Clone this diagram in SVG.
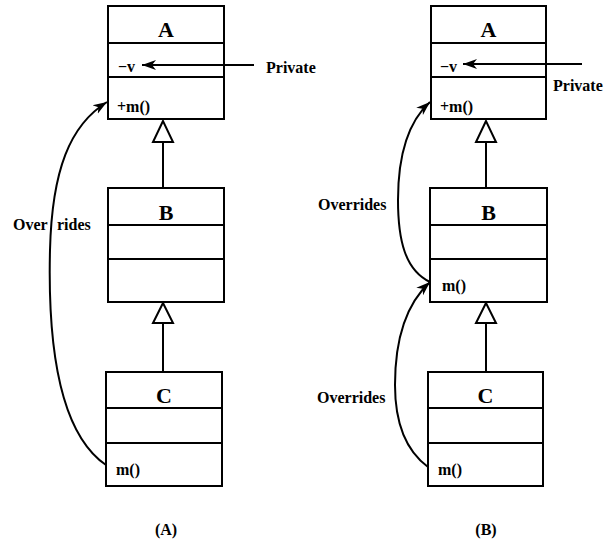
<svg xmlns="http://www.w3.org/2000/svg" width="605" height="543" viewBox="0 0 605 543">
<style>
.box{fill:#fff;stroke:#000;stroke-width:2}
.ln{fill:none;stroke:#000;stroke-width:2}
.t{font-family:"Liberation Serif","Times New Roman",serif;font-weight:bold;fill:#000}
.title{font-size:22px;text-anchor:middle}
.mem{font-size:16px}
.lbl{font-size:16px}
</style>
<defs>
<marker id="ah" markerUnits="userSpaceOnUse" markerWidth="16" markerHeight="12" viewBox="0 0 16 12" refX="14" refY="6" orient="auto">
<path d="M0,1 L14,6 L0,11 L4,6 Z" fill="#000"/>
</marker>
</defs>
<g id="A1">
<rect class="box" x="108" y="6" width="116" height="113"/>
<path class="ln" d="M108,43 H224 M108,77 H224"/>
<text class="t title" x="166" y="37">A</text>
<text class="t mem" x="118" y="72">−v</text>
<text class="t mem" x="117" y="112">+m()</text>
</g>
<g id="B1">
<rect class="box" x="108" y="188" width="116" height="114"/>
<path class="ln" d="M108,225 H224 M108,259 H224"/>
<text class="t title" x="166" y="220">B</text>
</g>
<g id="C1">
<rect class="box" x="106" y="372" width="116" height="114"/>
<path class="ln" d="M106,408 H222 M106,443 H222"/>
<text class="t title" x="164" y="403">C</text>
<text class="t mem" x="116" y="475">m()</text>
</g>
<g id="A2">
<rect class="box" x="431" y="6" width="115" height="113"/>
<path class="ln" d="M431,43 H546 M431,77 H546"/>
<text class="t title" x="488.5" y="37">A</text>
<text class="t mem" x="440" y="72">−v</text>
<text class="t mem" x="440" y="112">+m()</text>
</g>
<g id="B2">
<rect class="box" x="430" y="188" width="117" height="114"/>
<path class="ln" d="M430,225 H547 M430,259 H547"/>
<text class="t title" x="488.5" y="220">B</text>
<text class="t mem" x="442" y="291">m()</text>
</g>
<g id="C2">
<rect class="box" x="428" y="372" width="115" height="114"/>
<path class="ln" d="M428,408 H543 M428,443 H543"/>
<text class="t title" x="485.5" y="403">C</text>
<text class="t mem" x="438" y="475">m()</text>
</g>
<g id="connectors">
<path class="ln" d="M163,142 V188"/>
<path d="M163,121 L153,142 L173,142 Z" fill="#fff" stroke="#000" stroke-width="2"/>
<path class="ln" d="M163,323 V372"/>
<path d="M163,303 L153,323 L173,323 Z" fill="#fff" stroke="#000" stroke-width="2"/>
<path class="ln" d="M486,142 V188"/>
<path d="M486,121 L476,142 L496,142 Z" fill="#fff" stroke="#000" stroke-width="2"/>
<path class="ln" d="M486,323 V372"/>
<path d="M486,303 L476,323 L496,323 Z" fill="#fff" stroke="#000" stroke-width="2"/>
<path class="ln" d="M254,65 H142" marker-end="url(#ah)"/>
<path class="ln" d="M582,64 H463" marker-end="url(#ah)"/>
<path class="ln" d="M106,465 C55,430 48,330 50,250 C52,170 70,125 107,102" marker-end="url(#ah)"/>
<path class="ln" d="M430,282 C405,270 398,240 398,200 C398,150 410,120 430,102" marker-end="url(#ah)"/>
<path class="ln" d="M428,467 C405,450 395,420 395,385 C395,340 405,305 430,282" marker-end="url(#ah)"/>
</g>
<g id="labels">
<text class="t lbl" x="266" y="73">Private</text>
<text class="t lbl" x="553" y="91">Private</text>
<text class="t lbl" y="230"><tspan x="13">Over</tspan><tspan x="53"> rides</tspan></text>
<text class="t lbl" x="318" y="210">Overrides</text>
<text class="t lbl" x="317" y="403">Overrides</text>
<text class="t lbl" x="166" y="535" text-anchor="middle">(A)</text>
<text class="t lbl" x="486" y="535" text-anchor="middle">(B)</text>
</g>
</svg>
